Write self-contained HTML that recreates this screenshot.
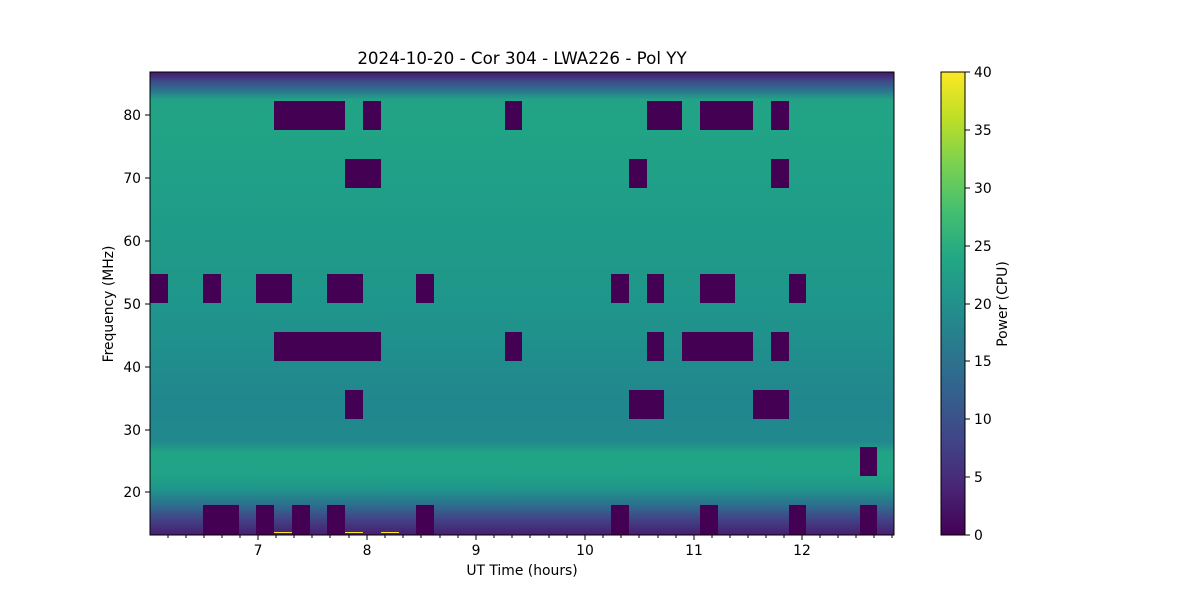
<!DOCTYPE html>
<html><head><meta charset="utf-8"><style>
body{margin:0;background:#fff;width:1200px;height:600px;overflow:hidden}
</style></head><body>
<svg width="1200" height="600" xmlns="http://www.w3.org/2000/svg" font-family="DejaVu Sans, Liberation Sans, sans-serif" font-size="13.9">
<defs>
<linearGradient id="bg" x1="0" y1="0" x2="0" y2="1">
<stop offset="0" stop-color="#46186a"/>
<stop offset="0.02" stop-color="#3e4a89"/>
<stop offset="0.04" stop-color="#2c738e"/>
<stop offset="0.06" stop-color="#22a386"/>
<stop offset="0.13" stop-color="#21a386"/>
<stop offset="0.2" stop-color="#20a187"/>
<stop offset="0.35" stop-color="#1f9b89"/>
<stop offset="0.5" stop-color="#1f968b"/>
<stop offset="0.56" stop-color="#20928c"/>
<stop offset="0.72" stop-color="#21868e"/>
<stop offset="0.8" stop-color="#21898d"/>
<stop offset="0.82" stop-color="#21a386"/>
<stop offset="0.87" stop-color="#20a386"/>
<stop offset="0.9" stop-color="#1f968b"/>
<stop offset="0.935" stop-color="#2c6f8e"/>
<stop offset="0.965" stop-color="#414487"/>
<stop offset="1" stop-color="#471e6f"/>
</linearGradient>
<linearGradient id="vir" x1="0" y1="1" x2="0" y2="0">
<stop offset="0" stop-color="#440154"/><stop offset="0.1" stop-color="#482475"/>
<stop offset="0.2" stop-color="#414487"/><stop offset="0.3" stop-color="#355f8d"/>
<stop offset="0.4" stop-color="#2a788e"/><stop offset="0.5" stop-color="#21918c"/>
<stop offset="0.6" stop-color="#22a884"/><stop offset="0.7" stop-color="#44bf70"/>
<stop offset="0.8" stop-color="#7ad151"/><stop offset="0.9" stop-color="#bddf26"/>
<stop offset="1" stop-color="#fde725"/>
</linearGradient>
</defs>
<rect x="150" y="72" width="744" height="463" fill="url(#bg)"/>
<g fill="#440154">
<rect x="274" y="101" width="71" height="29"/><rect x="363" y="101" width="18" height="29"/><rect x="505" y="101" width="17" height="29"/><rect x="647" y="101" width="35" height="29"/><rect x="700" y="101" width="53" height="29"/><rect x="771" y="101" width="18" height="29"/>
<rect x="345" y="159" width="36" height="29"/><rect x="629" y="159" width="18" height="29"/><rect x="771" y="159" width="18" height="29"/>
<rect x="150" y="274" width="18" height="29"/><rect x="203" y="274" width="18" height="29"/><rect x="256" y="274" width="36" height="29"/><rect x="327" y="274" width="36" height="29"/><rect x="416" y="274" width="18" height="29"/><rect x="611" y="274" width="18" height="29"/><rect x="647" y="274" width="17" height="29"/><rect x="700" y="274" width="35" height="29"/><rect x="789" y="274" width="17" height="29"/>
<rect x="274" y="332" width="107" height="29"/><rect x="505" y="332" width="17" height="29"/><rect x="647" y="332" width="17" height="29"/><rect x="682" y="332" width="71" height="29"/><rect x="771" y="332" width="18" height="29"/>
<rect x="345" y="390" width="18" height="29"/><rect x="629" y="390" width="35" height="29"/><rect x="753" y="390" width="36" height="29"/>
<rect x="860" y="447" width="17" height="29"/>
<rect x="203" y="505" width="36" height="30"/><rect x="256" y="505" width="18" height="30"/><rect x="292" y="505" width="18" height="30"/><rect x="327" y="505" width="18" height="30"/><rect x="416" y="505" width="18" height="30"/><rect x="611" y="505" width="18" height="30"/><rect x="700" y="505" width="18" height="30"/><rect x="789" y="505" width="17" height="30"/><rect x="860" y="505" width="17" height="30"/>
</g>
<g fill="#fde725"><rect x="274" y="532" width="18" height="1"/><rect x="345" y="532" width="18" height="1"/><rect x="381" y="532" width="18" height="1"/></g>
<rect x="150" y="72" width="744" height="463" fill="none" stroke="#000" stroke-width="1"/>
<g stroke="#000">
<line x1="258" y1="535" x2="258" y2="540"/><line x1="367" y1="535" x2="367" y2="540"/><line x1="476" y1="535" x2="476" y2="540"/><line x1="585" y1="535" x2="585" y2="540"/><line x1="694" y1="535" x2="694" y2="540"/><line x1="802" y1="535" x2="802" y2="540"/>
</g>
<g text-anchor="middle" fill="#000">
<text x="258" y="555">7</text><text x="367" y="555">8</text><text x="476" y="555">9</text><text x="585" y="555">10</text><text x="694" y="555">11</text><text x="802" y="555">12</text>
<text x="522" y="575">UT Time (hours)</text>
<text x="522" y="64" font-size="16.7">2024-10-20 - Cor 304 - LWA226 - Pol YY</text>
</g>
<g stroke="#000">
<line x1="145" y1="115" x2="150" y2="115"/><line x1="145" y1="178" x2="150" y2="178"/><line x1="145" y1="241" x2="150" y2="241"/><line x1="145" y1="304" x2="150" y2="304"/><line x1="145" y1="367" x2="150" y2="367"/><line x1="145" y1="430" x2="150" y2="430"/><line x1="145" y1="492" x2="150" y2="492"/>
</g>
<g text-anchor="end" fill="#000">
<text x="141" y="120">80</text><text x="141" y="183">70</text><text x="141" y="246">60</text><text x="141" y="309">50</text><text x="141" y="372">40</text><text x="141" y="435">30</text><text x="141" y="497">20</text>
</g>
<text transform="translate(113,304) rotate(-90)" text-anchor="middle">Frequency (MHz)</text>
<rect x="941" y="72" width="24" height="463" fill="url(#vir)" stroke="#000" stroke-width="1"/>
<g stroke="#000">
<line x1="965" y1="535" x2="970" y2="535"/><line x1="965" y1="477" x2="970" y2="477"/><line x1="965" y1="419" x2="970" y2="419"/><line x1="965" y1="361" x2="970" y2="361"/><line x1="965" y1="304" x2="970" y2="304"/><line x1="965" y1="246" x2="970" y2="246"/><line x1="965" y1="188" x2="970" y2="188"/><line x1="965" y1="130" x2="970" y2="130"/><line x1="965" y1="72" x2="970" y2="72"/>
</g>
<g fill="#000">
<text x="974" y="540">0</text><text x="974" y="482">5</text><text x="974" y="424">10</text><text x="974" y="366">15</text><text x="974" y="309">20</text><text x="974" y="251">25</text><text x="974" y="193">30</text><text x="974" y="135">35</text><text x="974" y="77">40</text>
</g>
<text transform="translate(1007,304) rotate(-90)" text-anchor="middle">Power (CPU)</text>
<g stroke="#000" stroke-width="1">
<line x1="168" y1="535" x2="168" y2="538"/><line x1="186" y1="535" x2="186" y2="538"/><line x1="204" y1="535" x2="204" y2="538"/><line x1="222" y1="535" x2="222" y2="538"/><line x1="240" y1="535" x2="240" y2="538"/>
<line x1="276" y1="535" x2="276" y2="538"/><line x1="294" y1="535" x2="294" y2="538"/><line x1="312" y1="535" x2="312" y2="538"/><line x1="330" y1="535" x2="330" y2="538"/><line x1="349" y1="535" x2="349" y2="538"/>
<line x1="385" y1="535" x2="385" y2="538"/><line x1="403" y1="535" x2="403" y2="538"/><line x1="421" y1="535" x2="421" y2="538"/><line x1="440" y1="535" x2="440" y2="538"/><line x1="458" y1="535" x2="458" y2="538"/>
<line x1="494" y1="535" x2="494" y2="538"/><line x1="512" y1="535" x2="512" y2="538"/><line x1="530" y1="535" x2="530" y2="538"/><line x1="549" y1="535" x2="549" y2="538"/><line x1="567" y1="535" x2="567" y2="538"/>
<line x1="603" y1="535" x2="603" y2="538"/><line x1="621" y1="535" x2="621" y2="538"/><line x1="639" y1="535" x2="639" y2="538"/><line x1="658" y1="535" x2="658" y2="538"/><line x1="676" y1="535" x2="676" y2="538"/>
<line x1="712" y1="535" x2="712" y2="538"/><line x1="730" y1="535" x2="730" y2="538"/><line x1="748" y1="535" x2="748" y2="538"/><line x1="766" y1="535" x2="766" y2="538"/><line x1="784" y1="535" x2="784" y2="538"/>
<line x1="820" y1="535" x2="820" y2="538"/><line x1="838" y1="535" x2="838" y2="538"/><line x1="856" y1="535" x2="856" y2="538"/><line x1="874" y1="535" x2="874" y2="538"/><line x1="892" y1="535" x2="892" y2="538"/>
</g>
</svg>
</body></html>
